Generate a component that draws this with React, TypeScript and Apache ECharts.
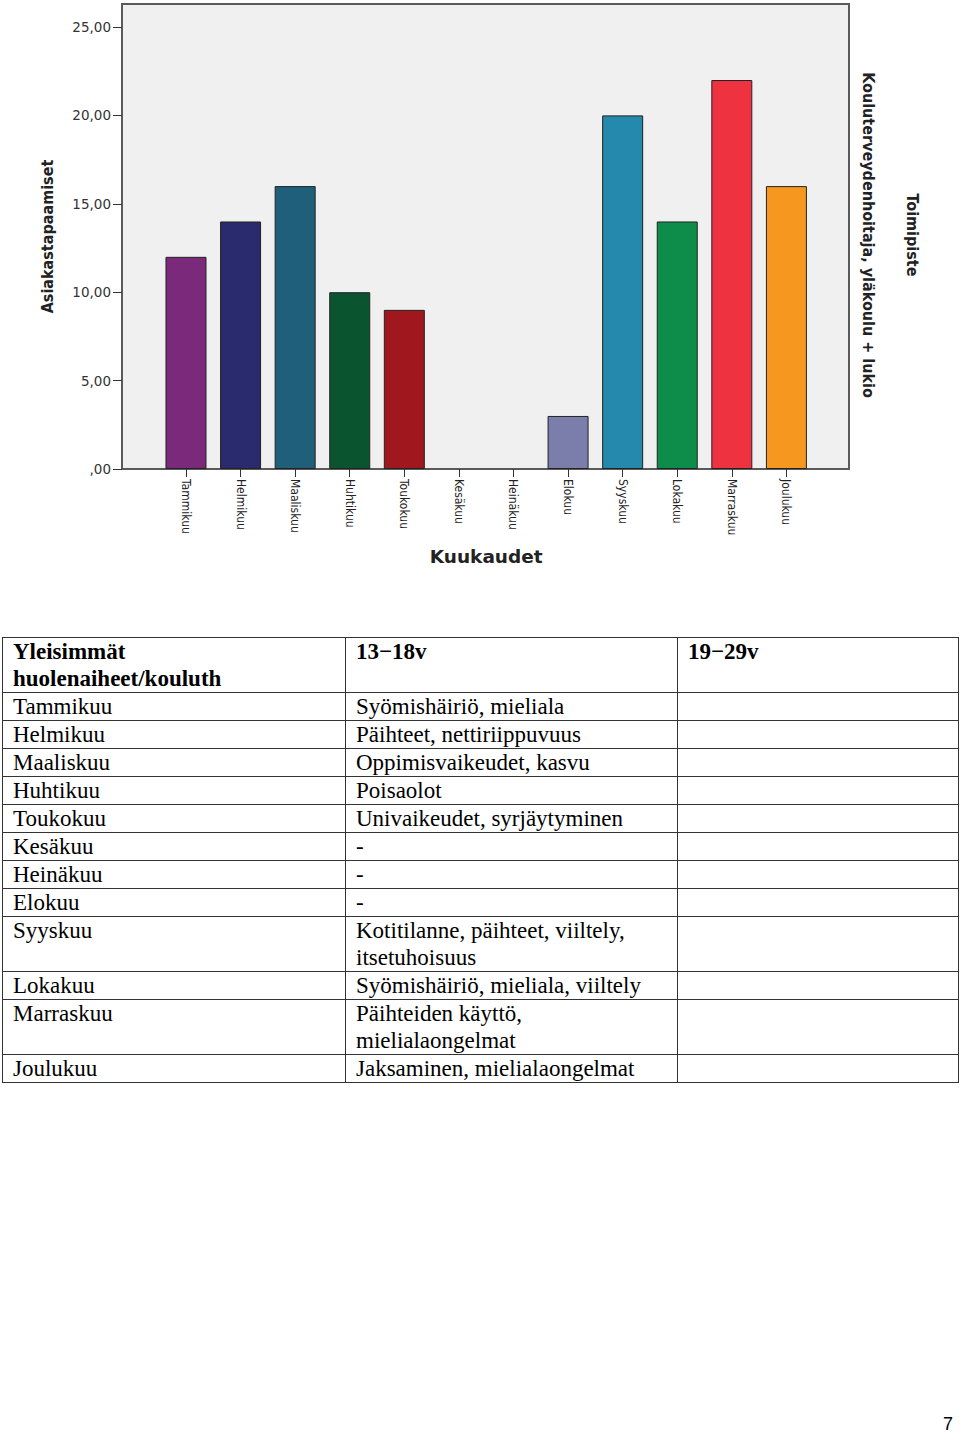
import React, { useEffect, useRef } from "react";
import * as echarts from "echarts";

const months = ["Tammikuu", "Helmikuu", "Maaliskuu", "Huhtikuu", "Toukokuu", "Kesäkuu", "Heinäkuu", "Elokuu", "Syyskuu", "Lokakuu", "Marraskuu", "Joulukuu"];
const visits = [12, 14, 16, 10, 9, 0, 0, 3, 20, 14, 22, 16];
const yTicks = [0, 5, 10, 15, 20, 25];
const yAxisTitle = "Asiakastapaamiset";
const xAxisTitle = "Kuukaudet";
const legendTitle = "Toimipiste";
const legendItem = "Kouluterveydenhoitaja, yläkoulu + lukio";

const palette = ["#7b2a7b", "#2a2a6e", "#1f5f7a", "#0b5430", "#a0181e", "#888888", "#888888", "#7b7dab", "#2489ac", "#0e8d4a", "#ee3240", "#f6981f"];

const tableHeader = ["Yleisimmät\nhuolenaiheet/kouluth", "13−18v", "19−29v"];
const tableMonths = ["Tammikuu", "Helmikuu", "Maaliskuu", "Huhtikuu", "Toukokuu", "Kesäkuu", "Heinäkuu", "Elokuu", "Syyskuu", "Lokakuu", "Marraskuu", "Joulukuu"];
const concerns13to18 = [
  "Syömishäiriö, mieliala",
  "Päihteet, nettiriippuvuus",
  "Oppimisvaikeudet, kasvu",
  "Poisaolot",
  "Univaikeudet, syrjäytyminen",
  "-",
  "-",
  "-",
  "Kotitilanne, päihteet, viiltely,\nitsetuhoisuus",
  "Syömishäiriö, mieliala, viiltely",
  "Päihteiden käyttö,\nmielialaongelmat",
  "Jaksaminen, mielialaongelmat",
];
const concerns19to29 = ["", "", "", "", "", "", "", "", "", "", "", ""];
const pageNumber = "7";

const YMAX = 26.3;
const condensed = "'DejaVu Sans Condensed', 'DejaVu Sans', sans-serif";

function Chart() {
  const ref = useRef<HTMLDivElement>(null);
  useEffect(() => {
    if (!ref.current) return;
    const chart = echarts.init(ref.current, null, { renderer: "svg" });
    chart.setOption({
      animation: false,
      grid: [
        { left: 122, top: 4, width: 727, height: 465, show: true, backgroundColor: "#f0f0f0", borderColor: "#5a5a5a", borderWidth: 2 },
        { left: 158.7, top: 4, width: 655, height: 465, show: false },
      ],
      xAxis: [
        { type: "value", gridIndex: 0, show: false, min: 0, max: 1 },
        {
          type: "category",
          gridIndex: 1,
          data: months,
          axisLine: { show: false },
          axisTick: { show: true, alignWithLabel: true, length: 8, lineStyle: { color: "#333" } },
          axisLabel: { rotate: -90, margin: 10, fontFamily: condensed, fontSize: 12, color: "#222", interval: 0 },
          name: xAxisTitle,
          nameLocation: "middle",
          nameGap: 78,
          nameTextStyle: { fontFamily: "DejaVu Sans", fontWeight: "bold", fontSize: 18.5, color: "#222" },
        },
      ],
      yAxis: [
        {
          type: "value",
          gridIndex: 0,
          min: 0,
          max: YMAX,
          splitLine: { show: false },
          axisLine: { show: false },
          axisTick: { show: true, length: 9, lineStyle: { color: "#333" }, customValues: yTicks },
          axisLabel: {
            customValues: yTicks,
            margin: 11,
            fontFamily: "DejaVu Sans",
            fontSize: 13.5,
            color: "#333",
            formatter: (v: number) => (v === 0 ? ",00" : v.toFixed(2).replace(".", ",")),
          },
          name: yAxisTitle,
          nameLocation: "middle",
          nameGap: 67,
          nameTextStyle: { fontFamily: condensed, fontWeight: "bold", fontSize: 16, color: "#222" },
        },
        { type: "value", gridIndex: 1, min: 0, max: YMAX, show: false, splitLine: { show: false } },
      ],
      graphic: [
        {
          type: "text",
          x: 868,
          y: 235,
          rotation: -Math.PI / 2,
          style: { text: legendItem, fontFamily: condensed, fontWeight: "bold", fontSize: 16, fill: "#222", align: "center", verticalAlign: "middle" },
        },
        {
          type: "text",
          x: 912,
          y: 235,
          rotation: -Math.PI / 2,
          style: { text: legendTitle, fontFamily: condensed, fontWeight: "bold", fontSize: 16, fill: "#222", align: "center", verticalAlign: "middle" },
        },
      ],
      series: [
        {
          type: "bar",
          xAxisIndex: 1,
          yAxisIndex: 1,
          barWidth: 41,
          data: visits.map((v, i) => ({ value: v, itemStyle: { color: palette[i], borderWidth: v === 0 ? 0 : 1 } })),
          itemStyle: { borderColor: "#222", borderWidth: 1 },
        },
      ],
    });
    return () => chart.dispose();
  }, []);
  return <div ref={ref} style={{ position: "absolute", left: 0, top: 0, width: 960, height: 600 }} />;
}

function Lines({ text }: { text: string }) {
  const parts = text.split("\n");
  return (
    <>
      {parts.map((p, i) => (
        <React.Fragment key={i}>
          {i > 0 && <br />}
          {p}
        </React.Fragment>
      ))}
    </>
  );
}

export default function App() {
  const cell: React.CSSProperties = {
    border: "1px solid #333",
    padding: "0 10px",
    verticalAlign: "top",
    textAlign: "left",
    lineHeight: "27px",
  };
  return (
    <div style={{ position: "absolute", left: 0, top: 0, width: 960, height: 1433, background: "#fff" }}>
      <Chart />
      <table
        style={{
          position: "absolute",
          left: 2,
          top: 637,
          width: 956,
          borderCollapse: "collapse",
          fontFamily: "Liberation Serif",
          fontSize: 23,
          color: "#000",
          tableLayout: "fixed",
        }}
      >
        <colgroup>
          <col style={{ width: 343 }} />
          <col style={{ width: 332 }} />
          <col style={{ width: 281 }} />
        </colgroup>
        <thead>
          <tr>
            {tableHeader.map((h, i) => (
              <th key={i} style={{ ...cell, fontWeight: "bold", height: 53 }}>
                <Lines text={h} />
              </th>
            ))}
          </tr>
        </thead>
        <tbody>
          {tableMonths.map((m, i) => (
            <tr key={m}>
              <td style={cell}>{m}</td>
              <td style={cell}>
                <Lines text={concerns13to18[i]} />
              </td>
              <td style={cell}>{concerns19to29[i]}</td>
            </tr>
          ))}
        </tbody>
      </table>
      <div style={{ position: "absolute", left: 943, top: 1414, fontFamily: "Liberation Sans", fontSize: 18, color: "#000" }}>{pageNumber}</div>
    </div>
  );
}
